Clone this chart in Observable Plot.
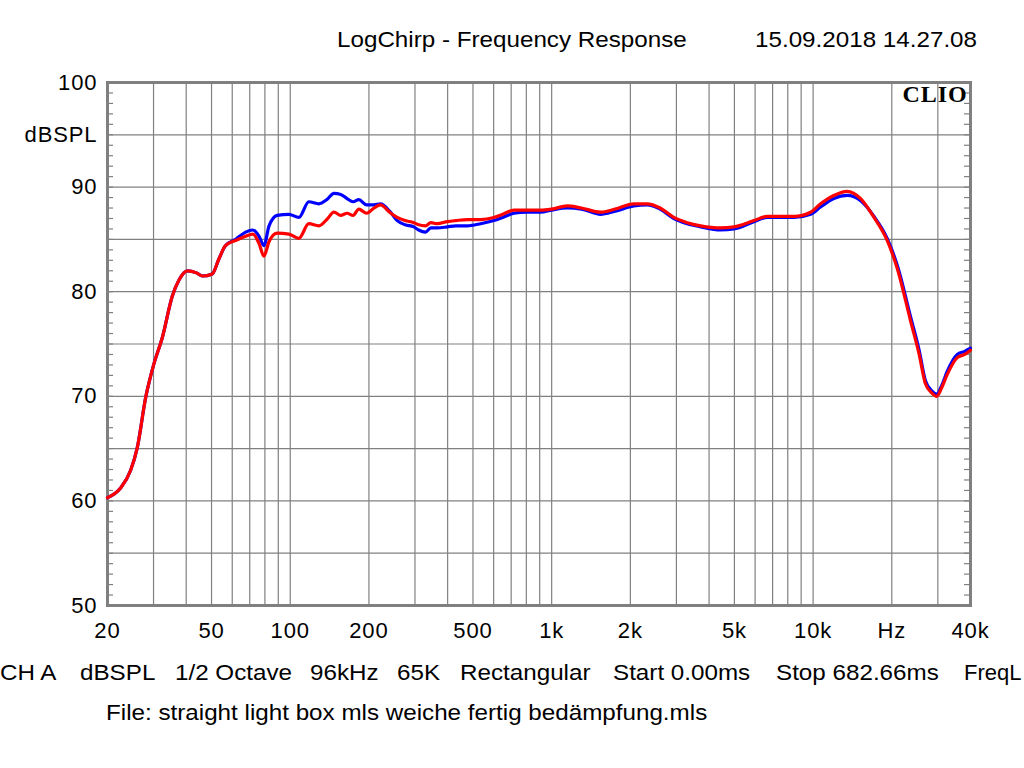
<!DOCTYPE html>
<html>
<head>
<meta charset="utf-8">
<script src="https://cdn.jsdelivr.net/npm/d3@7"></script>
<script src="https://cdn.jsdelivr.net/npm/@observablehq/plot@0.6"></script>
<style>
  html, body { margin: 0; padding: 0; background: #fff; }
  #root { position: relative; width: 1024px; height: 768px; background: #fff; overflow: hidden;
          font-family: "Liberation Sans", Arial, sans-serif; font-size: 22px; color: #000; }
  .t { position: absolute; line-height: 26px; white-space: nowrap; transform: scaleX(1.1); transform-origin: left center; }
  #chart { position: absolute; left: 0; top: 60px; }
  #chart svg text { letter-spacing: 0.9px; }
</style>
</head>
<body>
<div id="root">
  <span class="t" style="left:337px; top:27px;">LogChirp - Frequency Response</span>
  <span class="t" style="left:755px; top:27px;">15.09.2018 14.27.08</span>
  <div id="chart"></div>
  <span class="t" style="left:0px; top:660px;">CH A</span>
  <span class="t" style="left:80px; top:660px;">dBSPL</span>
  <span class="t" style="left:175px; top:660px;">1/2 Octave</span>
  <span class="t" style="left:310px; top:660px;">96kHz</span>
  <span class="t" style="left:397px; top:660px;">65K</span>
  <span class="t" style="left:460px; top:660px;">Rectangular</span>
  <span class="t" style="left:613px; top:660px;">Start 0.00ms</span>
  <span class="t" style="left:776px; top:660px;">Stop 682.66ms</span>
  <span class="t" style="left:964px; top:660px; transform:none;">FreqL</span>
  <span class="t" style="left:106px; top:700px;">File: straight light box mls weiche fertig bedämpfung.mls</span>
</div>
<script>
// Frequencies (Hz)
const freqs = [20, 22.4, 24.5, 26, 28, 30.1, 32.4, 35.4, 37.5, 40.4, 43.8, 46.1, 50.3, 53.3, 56.5, 61.8, 67.5, 72, 76, 79.3, 83, 89.2, 98.8, 107.9, 117.8, 128.7, 138, 147, 156, 165, 174, 183, 196, 209, 221.6, 240, 256.6, 275, 297, 310, 329, 345, 365, 399, 430, 475, 535, 601, 650, 717, 800, 907, 1000, 1147, 1300, 1538, 1750, 2062, 2320, 2600, 2933, 3300, 3712, 4426, 4978, 5938, 6681, 7500, 8446, 9780, 10680, 12000, 13500, 15200, 17100, 19200, 21000, 23600, 25400, 26900, 28500, 29700, 31000, 32600, 35600, 38000, 40000];
// Red trace (dBSPL)
const splRed = [60.3, 61.2, 62.9, 65.1, 69.9, 73.1, 75.6, 79.6, 81.1, 82.0, 81.8, 81.5, 81.7, 83.1, 84.4, 84.9, 85.3, 85.5, 84.6, 83.4, 84.8, 85.6, 85.5, 85.1, 86.5, 86.3, 86.9, 87.6, 87.3, 87.5, 87.3, 87.9, 87.5, 88.0, 88.3, 87.6, 87.1, 86.8, 86.6, 86.4, 86.3, 86.6, 86.5, 86.7, 86.8, 86.9, 86.9, 87.1, 87.4, 87.8, 87.8, 87.8, 87.9, 88.2, 88.0, 87.6, 87.9, 88.4, 88.4, 88.0, 87.1, 86.6, 86.3, 86.1, 86.2, 86.8, 87.2, 87.2, 87.2, 87.6, 88.4, 89.2, 89.6, 88.9, 87.1, 84.9, 82.2, 77.2, 74.1, 71.2, 70.3, 70.0, 70.8, 72.1, 73.7, 74.0, 74.4];
// Blue trace (dBSPL)
const splBlue = [60.3, 61.2, 62.9, 65.1, 69.9, 73.1, 75.6, 79.6, 81.1, 82.0, 81.8, 81.5, 81.7, 83.1, 84.4, 85.0, 85.7, 85.9, 85.3, 84.4, 86.3, 87.3, 87.4, 87.1, 88.6, 88.4, 88.8, 89.4, 89.3, 88.9, 88.6, 88.8, 88.3, 88.3, 88.4, 87.7, 86.8, 86.4, 86.2, 85.9, 85.7, 86.1, 86.1, 86.2, 86.3, 86.3, 86.5, 86.8, 87.1, 87.5, 87.6, 87.6, 87.8, 88.0, 87.9, 87.4, 87.7, 88.2, 88.3, 87.9, 87.0, 86.5, 86.2, 85.9, 86.0, 86.7, 87.1, 87.1, 87.1, 87.4, 88.1, 88.9, 89.2, 88.7, 87.2, 85.1, 82.5, 77.6, 74.5, 71.5, 70.5, 70.2, 71.0, 72.4, 74.0, 74.3, 74.6];

// Grid and tick definitions
const xGrid = [30, 40, 50, 60, 70, 80, 90, 100, 200, 300, 400, 500, 600, 700, 800, 900, 1000, 2000, 3000, 4000, 5000, 6000, 7000, 8000, 9000, 10000, 20000, 30000];
const xTickValues = [20, 50, 100, 200, 500, 1000, 2000, 5000, 10000, 20000, 40000];
const xTickLabels = ["20", "50", "100", "200", "500", "1k", "2k", "5k", "10k", "Hz", "40k"];
const yGrid = [55, 60, 65, 70, 75, 80, 85, 90, 95];
const yTickValues = [50, 60, 70, 80, 90, 95, 100];
const yTickLabels = ["50", "60", "70", "80", "90", "dBSPL", "100"];
const yMinor = d3.range(51, 100, 1);

const data = freqs.map((f, i) => ({f, red: splRed[i], blue: splBlue[i]}));
const xLabels = xTickValues.map((v, i) => ({v, label: xTickLabels[i]}));
const yLabels = yTickValues.map((v, i) => ({v, label: yTickLabels[i]}));
const grey = "#808080";

const chart = Plot.plot({
  width: 1024,
  height: 600,
  marginTop: 22,
  marginLeft: 107,
  marginRight: 54,
  marginBottom: 55,
  style: {fontFamily: "'Liberation Sans', Arial, sans-serif", fontSize: "22px", color: "#000", background: "#fff", overflow: "visible"},
  x: {type: "log", domain: [20, 40000], label: null, axis: null},
  y: {domain: [50, 100], label: null, axis: null},
  marks: [
    Plot.ruleX(xGrid, {stroke: grey, strokeWidth: 1.2, strokeOpacity: 1}),
    Plot.ruleY(yGrid, {stroke: grey, strokeWidth: 1.2, strokeOpacity: 1}),
    Plot.tickY(yMinor, {y: d => d, stroke: grey, strokeWidth: 1.2, insetRight: 857}),
    Plot.tickY(yMinor, {y: d => d, stroke: grey, strokeWidth: 1.2, insetLeft: 857}),
    Plot.frame({stroke: grey, strokeWidth: 3}),
    Plot.line(data, {x: "f", y: "blue", stroke: "#0000ff", strokeWidth: 3.2, curve: "monotone-x"}),
    Plot.line(data, {x: "f", y: "red", stroke: "#ff0000", strokeWidth: 3.2, curve: "monotone-x"}),
    Plot.text(xLabels, {x: "v", text: "label", frameAnchor: "bottom", lineAnchor: "top", dy: 17, fontSize: 22, fill: "#000"}),
    Plot.text(yLabels, {y: "v", text: "label", frameAnchor: "left", textAnchor: "end", dx: -10, fontSize: 22, fill: "#000"}),
    Plot.text(["CLIO"], {text: d => d, frameAnchor: "top-right", dx: -3, dy: 2, lineAnchor: "top", textAnchor: "end", fontFamily: "'Liberation Serif', 'DejaVu Serif', serif", fontWeight: "bold", fontSize: 24, fill: "#000"})
  ]
});
document.getElementById("chart").appendChild(chart);
</script>
</body>
</html>
